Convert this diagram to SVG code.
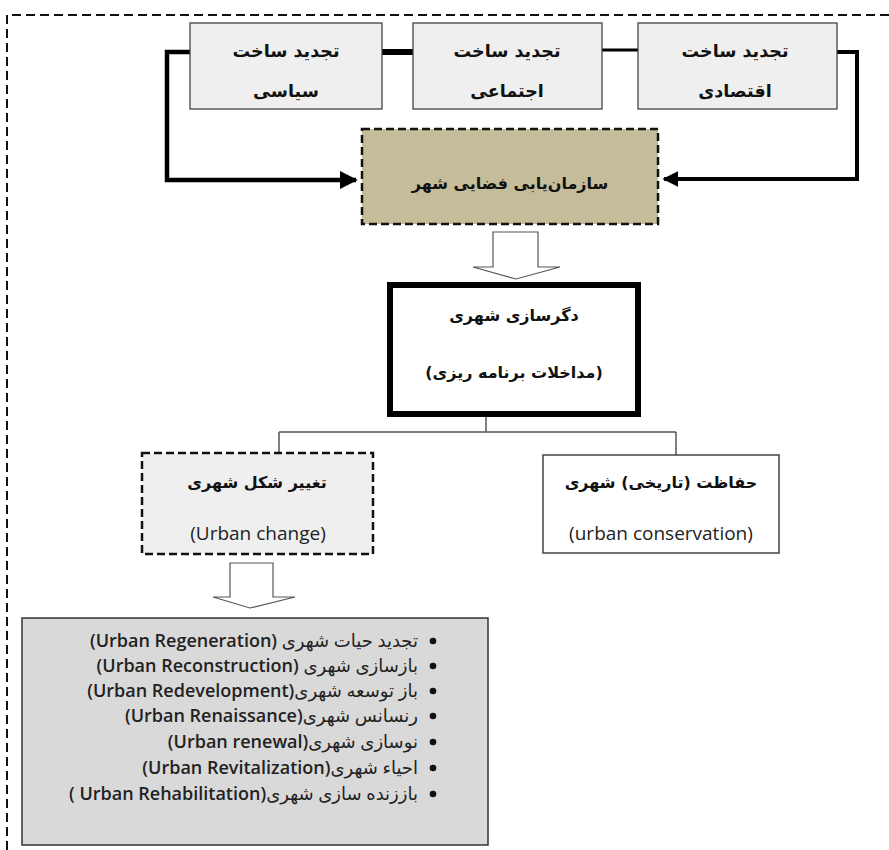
<svg xmlns="http://www.w3.org/2000/svg" width="889" height="850" viewBox="0 0 889 850">
<style>
.fa{font-family:"DejaVu Sans",sans-serif;font-weight:bold;font-size:16px;fill:#111;}
.fat{font-size:17.5px;}
.en{font-family:"Open Sans","DejaVu Sans",sans-serif;font-size:19px;fill:#222;}
.li{font-family:"Open Sans","DejaVu Sans",sans-serif;font-size:18px;fill:#222;}
.lat{font-weight:600;}
.top{fill:#efefef;stroke:#444;stroke-width:1.3;}
.hollow{fill:#fff;stroke:#555;stroke-width:1.2;}
.tree{fill:none;stroke:#555;stroke-width:1.5;}
</style>
<defs>
<marker id="ah" viewBox="0 0 10 10" refX="9" refY="5" markerWidth="4" markerHeight="4" orient="auto" markerUnits="strokeWidth">
<path d="M0,0 L10,5 L0,10 z" fill="#000"/>
</marker>
</defs>
<rect width="889" height="850" fill="#fff"/>
<g id="frame" fill="none" stroke="#111" stroke-width="2" stroke-dasharray="9 5">
<path d="M889,15 H7 V850"/>
</g>
<g id="connectors">
<path d="M190,52 H167 V180 H356" fill="none" stroke="#000" stroke-width="4.5" marker-end="url(#ah)"/>
<path d="M837,52 H857 V179 H664" fill="none" stroke="#000" stroke-width="4" marker-end="url(#ah)"/>
<line x1="382" y1="52" x2="413" y2="52" stroke="#000" stroke-width="6"/>
<line x1="602" y1="50" x2="638" y2="50" stroke="#000" stroke-width="3"/>
<polygon class="hollow" points="493,232 538,232 538,267 560,267 516,279 473,267 493,267"/>
<path class="tree" d="M486,415 V432 M279,432 H676 M279,432 V453 M676,432 V455"/>
<polygon class="hollow" points="230,563 273,563 273,597 295,597 250,608 213,597 230,597"/>
</g>
<g id="n-siasi">
<rect class="top" x="190" y="23" width="192" height="86"/>
<text class="fa fat" x="286" y="57" text-anchor="middle" direction="rtl">تجدید ساخت</text>
<text class="fa fat" x="286" y="97" text-anchor="middle" direction="rtl">سیاسی</text>
</g>
<g id="n-ejtemai">
<rect class="top" x="413" y="23" width="189" height="86"/>
<text class="fa fat" x="507" y="57" text-anchor="middle" direction="rtl">تجدید ساخت</text>
<text class="fa fat" x="507" y="97" text-anchor="middle" direction="rtl">اجتماعی</text>
</g>
<g id="n-eghtesadi">
<rect class="top" x="638" y="23" width="199" height="86"/>
<text class="fa fat" x="735" y="57" text-anchor="middle" direction="rtl">تجدید ساخت</text>
<text class="fa fat" x="735" y="97" text-anchor="middle" direction="rtl">اقتصادی</text>
</g>
<g id="n-sazmanyabi">
<rect x="362" y="129" width="296" height="95" fill="#c5bc9a" stroke="#111" stroke-width="2.5" stroke-dasharray="8 4"/>
<text class="fa" x="510" y="189" text-anchor="middle" direction="rtl">سازمان‌یابی فضایی شهر</text>
</g>
<g id="n-degarsazi">
<rect x="390" y="285" width="248" height="129" fill="#fff" stroke="#000" stroke-width="6"/>
<text class="fa" x="514" y="321" text-anchor="middle" direction="rtl">دگرسازی شهری</text>
<text class="fa" x="514" y="378" text-anchor="middle" direction="rtl">(مداخلات برنامه ریزی)</text>
</g>
<g id="n-change">
<rect x="142" y="453" width="231" height="101" fill="#efefef" stroke="#111" stroke-width="2.5" stroke-dasharray="8 4"/>
<text class="fa" x="257" y="488" text-anchor="middle" direction="rtl">تغییر شکل شهری</text>
<text class="en" x="258" y="540" text-anchor="middle">(Urban change)</text>
</g>
<g id="n-conservation">
<rect x="543" y="455" width="236" height="98" fill="#fff" stroke="#444" stroke-width="1.5"/>
<text class="fa" x="661" y="488" text-anchor="middle" direction="rtl">حفاظت (تاریخی) شهری</text>
<text class="en" x="661" y="540" text-anchor="middle">(urban conservation)</text>
</g>
<g id="n-list">
<rect x="22" y="618" width="466" height="227" fill="#d9d9d9" stroke="#333" stroke-width="1.5"/>
<g fill="#111">
<circle cx="433" cy="641" r="3.3"/>
<circle cx="433" cy="666" r="3.3"/>
<circle cx="433" cy="691" r="3.3"/>
<circle cx="433" cy="716" r="3.3"/>
<circle cx="433" cy="742" r="3.3"/>
<circle cx="433" cy="768" r="3.3"/>
<circle cx="433" cy="794" r="3.3"/>
</g>
<text class="li" x="418" y="647" text-anchor="start" direction="rtl">تجدید حیات شهری <tspan class="lat">(Urban Regeneration)</tspan></text>
<text class="li" x="418" y="672" text-anchor="start" direction="rtl">بازسازی شهری <tspan class="lat">(Urban Reconstruction)</tspan></text>
<text class="li" x="418" y="697" text-anchor="start" direction="rtl">باز توسعه شهری<tspan class="lat">(Urban Redevelopment)</tspan></text>
<text class="li" x="418" y="722" text-anchor="start" direction="rtl">رنسانس شهری<tspan class="lat">(Urban Renaissance)</tspan></text>
<text class="li" x="418" y="748" text-anchor="start" direction="rtl">نوسازی شهری<tspan class="lat">(Urban renewal)</tspan></text>
<text class="li" x="418" y="774" text-anchor="start" direction="rtl">احیاء شهری<tspan class="lat">(Urban Revitalization)</tspan></text>
<text class="li" x="418" y="800" text-anchor="start" direction="rtl">باززنده سازی شهری<tspan class="lat">(Urban Rehabilitation )</tspan></text>
</g>
</svg>
